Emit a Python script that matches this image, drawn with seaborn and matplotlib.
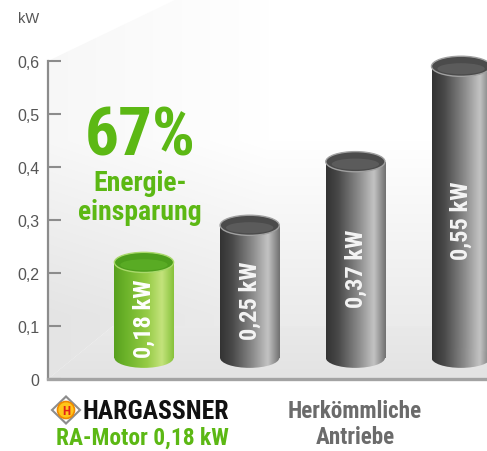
import numpy as np
import pandas as pd
import matplotlib
matplotlib.use("Agg")
import matplotlib.pyplot as plt
import seaborn as sns
from matplotlib.patches import Ellipse, Polygon, Circle
from matplotlib.colors import LinearSegmentedColormap
from matplotlib import font_manager as fm

# ---------------- data ----------------
categories = ["RA-Motor", "Antrieb A", "Antrieb B", "Antrieb C"]
values = [0.18, 0.25, 0.37, 0.55]
bar_labels = ["0,18 kW", "0,25 kW", "0,37 kW", "0,55 kW"]
y_ticks = [0, 0.1, 0.2, 0.3, 0.4, 0.5, 0.6]
y_tick_labels = ["0", "0,1", "0,2", "0,3", "0,4", "0,5", "0,6"]
unit_label = "kW"
savings_pct = "67%"
savings_text = ["Energie-", "einsparung"]
brand = "HARGASSNER"
brand_caption = "RA-Motor 0,18 kW"
other_caption = ["Herkömmliche", "Antriebe"]

# ---------------- style ----------------
sns.set_theme(style="white")
names = {f.name for f in fm.fontManager.ttflist}
if "Liberation Sans Narrow" in names:
    COND, FS = "Liberation Sans Narrow", 1.0
elif "Roboto Condensed" in names:
    COND, FS = "Roboto Condensed", 0.95
else:
    COND, FS = "DejaVu Sans", 0.72
REG = "Liberation Sans" if "Liberation Sans" in names else "DejaVu Sans"
plt.rcParams["font.family"] = [REG, "DejaVu Sans"]

GREEN = "#5cb814"
W, H = 487, 452
PX_PER_UNIT = 530.0
BASE = 0.04          # visual floor offset of the cylinders
EH = 0.038           # ellipse height (data units)
BAR_W = 0.56
HEAVY = 900

fig = plt.figure(figsize=(W / 100, H / 100), dpi=100)
fig.patch.set_facecolor("white")
ax = fig.add_axes([48 / W, 1 - 380 / H, 1 - 48 / W, 380 / H])
ax.set_facecolor("white")

XL = (-0.908, 3.245)
YL = (0, 380 / PX_PER_UNIT)

def px2d(px, py):
    return ((px - 144) / 105.7, (380 - py) / PX_PER_UNIT)

# ---------------- bars (seaborn) ----------------
df = pd.DataFrame({"cat": categories, "val": values})
sns.barplot(data=df, x="cat", y="val", ax=ax, width=BAR_W, color="#777777",
            saturation=1, zorder=3)
bars = list(ax.containers[0])

# ---------------- background (wall & floor) ----------------
gx = np.linspace(XL[0], XL[1], 200)
gy = np.linspace(YL[0], YL[1], 200)
GX, GY = np.meshgrid(gx, gy)
xn = (GX - XL[0]) / (XL[1] - XL[0])
wall = 1 - 0.075 * np.clip((0.45 - GY) / 0.33, 0, 1) - 0.03 * np.clip(1 - xn * 2.0, 0, 1)
wall_img = ax.imshow(np.dstack([wall] * 3), extent=[XL[0], XL[1], YL[0], YL[1]],
                     origin="lower", aspect="auto", zorder=0, interpolation="bilinear")
wall_poly = Polygon([px2d(48, 62), px2d(177, 0), px2d(487, 0), px2d(487, 327),
                     px2d(113, 327), px2d(48, 380)], closed=True, fill=False, lw=0,
                    transform=ax.transData)
ax.add_patch(wall_poly)
wall_img.set_clip_path(wall_poly)

floor = 0.915 - 0.025 * np.clip((0.1 - GY) / 0.1, 0, 1)
floor_img = ax.imshow(np.dstack([floor] * 3), extent=[XL[0], XL[1], YL[0], YL[1]],
                      origin="lower", aspect="auto", zorder=0, interpolation="bilinear")
floor_poly = Polygon([px2d(48, 380), px2d(113, 327), px2d(487, 327), px2d(487, 380)],
                     closed=True, fill=False, lw=0, transform=ax.transData)
ax.add_patch(floor_poly)
floor_img.set_clip_path(floor_poly)

green_cm = LinearSegmentedColormap.from_list(
    "g", [(0, "#58a01e"), (0.2, "#6cb32a"), (0.55, "#95cb45"), (0.8, "#c4e37c"), (1, "#86c23a")])
gray_cm = LinearSegmentedColormap.from_list(
    "k", [(0, "#333333"), (0.2, "#484848"), (0.55, "#8c8c8c"), (0.8, "#c3c3c3"), (1, "#707070")])
grad = np.linspace(0, 1, 256)[None, :]

for i, p in enumerate(bars):
    val = values[i]
    x0 = p.get_x()
    w = p.get_width()
    xc = x0 + w / 2
    p.set_y(BASE)
    p.set_facecolor("none")
    p.set_edgecolor("none")
    cm = green_cm if i == 0 else gray_cm
    ext = [x0, x0 + w, BASE - EH / 2, BASE + val]
    im1 = ax.imshow(grad, extent=ext, cmap=cm, aspect="auto", zorder=3,
                    interpolation="bicubic", origin="lower")
    im1.set_clip_path(p)
    bot = Ellipse((xc, BASE), w, EH, fill=False, lw=0, transform=ax.transData)
    ax.add_patch(bot)
    im2 = ax.imshow(grad, extent=ext, cmap=cm, aspect="auto", zorder=3,
                    interpolation="bicubic", origin="lower")
    im2.set_clip_path(bot)
    if i == 0:
        top_fc, top_ec, inner = "#4d9e1c", "#a9d96b", "#62b52a"
        txt_c = "white"
    else:
        top_fc, top_ec, inner = "#4b4b4b", "#a0a0a0", "#666666"
        txt_c = "#f4f4f4"
    ax.add_patch(Ellipse((xc, BASE + val), w, EH, fc=top_fc, ec=top_ec, lw=1.0, zorder=4))
    ax.add_patch(Ellipse((xc, BASE + val - EH * 0.12), w * 0.8, EH * 0.55, fc=inner,
                         ec="none", alpha=0.6, zorder=4))
    ax.text(xc + 0.005, BASE + val / 2 - 0.015, bar_labels[i], rotation=90,
            ha="center", va="center", color=txt_c, fontsize=18.5 * FS,
            fontweight=HEAVY, family=[COND, "DejaVu Sans"], zorder=5)

ax.set_xlim(*XL)
ax.set_ylim(*YL)

# ---------------- axes ----------------
sns.despine(ax=ax, top=True, right=True)
ax.spines["left"].set_bounds(0, 0.6)
ax.spines["left"].set_color("#8c8c8c")
ax.spines["left"].set_linewidth(1.6)
ax.spines["bottom"].set_color("#a3a3a3")
ax.spines["bottom"].set_linewidth(2.4)
ax.set_xticks([])
ax.set_yticks(y_ticks, y_tick_labels)
ax.tick_params(axis="y", left=True, direction="in", length=9, width=1.5,
               color="#8c8c8c", labelsize=11.5, labelcolor="#555555", pad=6)
ax.set_xlabel("")
ax.set_ylabel("")

# ---------------- overlay texts ----------------
ov = fig.add_axes([0, 0, 1, 1], zorder=10)
ov.set_xlim(0, W)
ov.set_ylim(H, 0)
ov.axis("off")
ov.patch.set_alpha(0)

ov.text(18, 19, unit_label, ha="left", va="center", fontsize=10.5, color="#555555")

cfam = [COND, "DejaVu Sans"]
ov.text(140, 138, savings_pct, ha="center", va="center", fontsize=51 * FS,
        fontweight=HEAVY, color=GREEN, family=cfam)
ov.text(140, 184, savings_text[0], ha="center", va="center", fontsize=21 * FS,
        fontweight=HEAVY, color=GREEN, family=cfam)
ov.text(140, 213, savings_text[1], ha="center", va="center", fontsize=21 * FS,
        fontweight=HEAVY, color=GREEN, family=cfam)

# logo
cx, cy = 66, 411
ov.add_patch(Polygon([(cx, cy - 15), (cx + 15.5, cy), (cx, cy + 15), (cx - 15.5, cy)],
                     closed=True, fc="#8d8d8d", ec="none"))
ov.add_patch(Polygon([(cx, cy - 12), (cx + 12.5, cy), (cx, cy + 12), (cx - 12.5, cy)],
                     closed=True, fc="white", ec="none"))
ov.add_patch(Circle((cx, cy), 8.5, fc="#ffc61a", ec="#f08a00", lw=1.2))
ov.text(cx, cy + 0.5, "H", ha="center", va="center", fontsize=9.5, fontweight="bold",
        color="#e2231a", family=cfam)

ov.text(83, 412, brand, ha="left", va="center", fontsize=19.5 * FS, fontweight=HEAVY,
        color="#111111", family=cfam)
ov.text(142, 438, brand_caption, ha="center", va="center", fontsize=17.8 * FS,
        fontweight=HEAVY, color=GREEN, family=cfam)
ov.text(355, 412, other_caption[0], ha="center", va="center", fontsize=17.5 * FS,
        fontweight=HEAVY, color="#6b6b6b", family=cfam)
ov.text(355, 438, other_caption[1], ha="center", va="center", fontsize=17.5 * FS,
        fontweight=HEAVY, color="#6b6b6b", family=cfam)

fig.savefig("out.png", dpi=100, facecolor="white")
